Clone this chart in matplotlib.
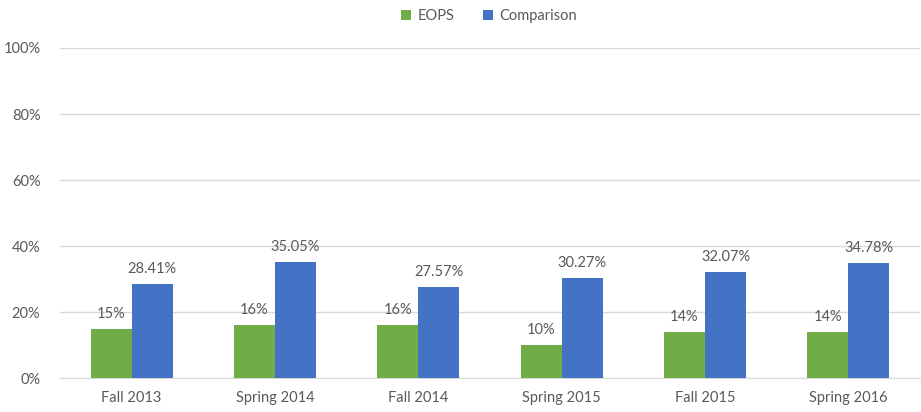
import matplotlib
matplotlib.use("Agg")
import matplotlib.pyplot as plt
import numpy as np
from matplotlib.ticker import FuncFormatter

categories = ["Fall 2013", "Spring 2014", "Fall 2014", "Spring 2015", "Fall 2015", "Spring 2016"]
eops = [15, 16, 16, 10, 14, 14]
comparison = [28.41, 35.05, 27.57, 30.27, 32.07, 34.78]
eops_labels = ["15%", "16%", "16%", "10%", "14%", "14%"]
comparison_labels = ["28.41%", "35.05%", "27.57%", "30.27%", "32.07%", "34.78%"]

plt.rcParams['font.family'] = ['Lato', 'DejaVu Sans']
txt = "#595959"
green = "#70AD47"
blue = "#4472C4"

fig = plt.figure(figsize=(9.21, 4.12), dpi=100)
ax = fig.add_axes([0.065, 0.0825, 0.934, 0.801])

x = np.arange(len(categories))
w = 0.286
b1 = ax.bar(x - w/2, eops, w, color=green, label="EOPS", zorder=3)
b2 = ax.bar(x + w/2, comparison, w, color=blue, label="Comparison", zorder=3)

for rect, lab in zip(b1, eops_labels):
    ax.text(rect.get_x() + rect.get_width()/2, rect.get_height() + 2.4, lab,
            ha="center", va="bottom", fontsize=10.5, color=txt)
for rect, lab in zip(b2, comparison_labels):
    ax.text(rect.get_x() + rect.get_width()/2, rect.get_height() + 2.4, lab,
            ha="center", va="bottom", fontsize=10.5, color=txt)

ax.set_xlim(-0.5, len(categories) - 0.5)
ax.set_ylim(0, 100)
ax.set_yticks([0, 20, 40, 60, 80, 100])
ax.yaxis.set_major_formatter(FuncFormatter(lambda v, p: f"{int(v)}%"))
ax.set_xticks(x)
ax.set_xticklabels(categories)
ax.tick_params(axis="both", length=0, labelsize=10.5, colors=txt)
ax.tick_params(axis="y", pad=14)
ax.tick_params(axis="x", pad=9)
ax.grid(axis="y", color="#D9D9D9", linewidth=1, zorder=0)
for s in ["top", "right", "left"]:
    ax.spines[s].set_visible(False)
ax.spines["bottom"].set_color("#D9D9D9")

leg = fig.legend(loc="center", bbox_to_anchor=(0.531, 0.961), ncol=2, frameon=False,
                 fontsize=10.5, handlelength=0.7, handleheight=0.7, handletextpad=0.4,
                 columnspacing=2.0)
for t in leg.get_texts():
    t.set_color(txt)

fig.savefig("out.png", dpi=100)
